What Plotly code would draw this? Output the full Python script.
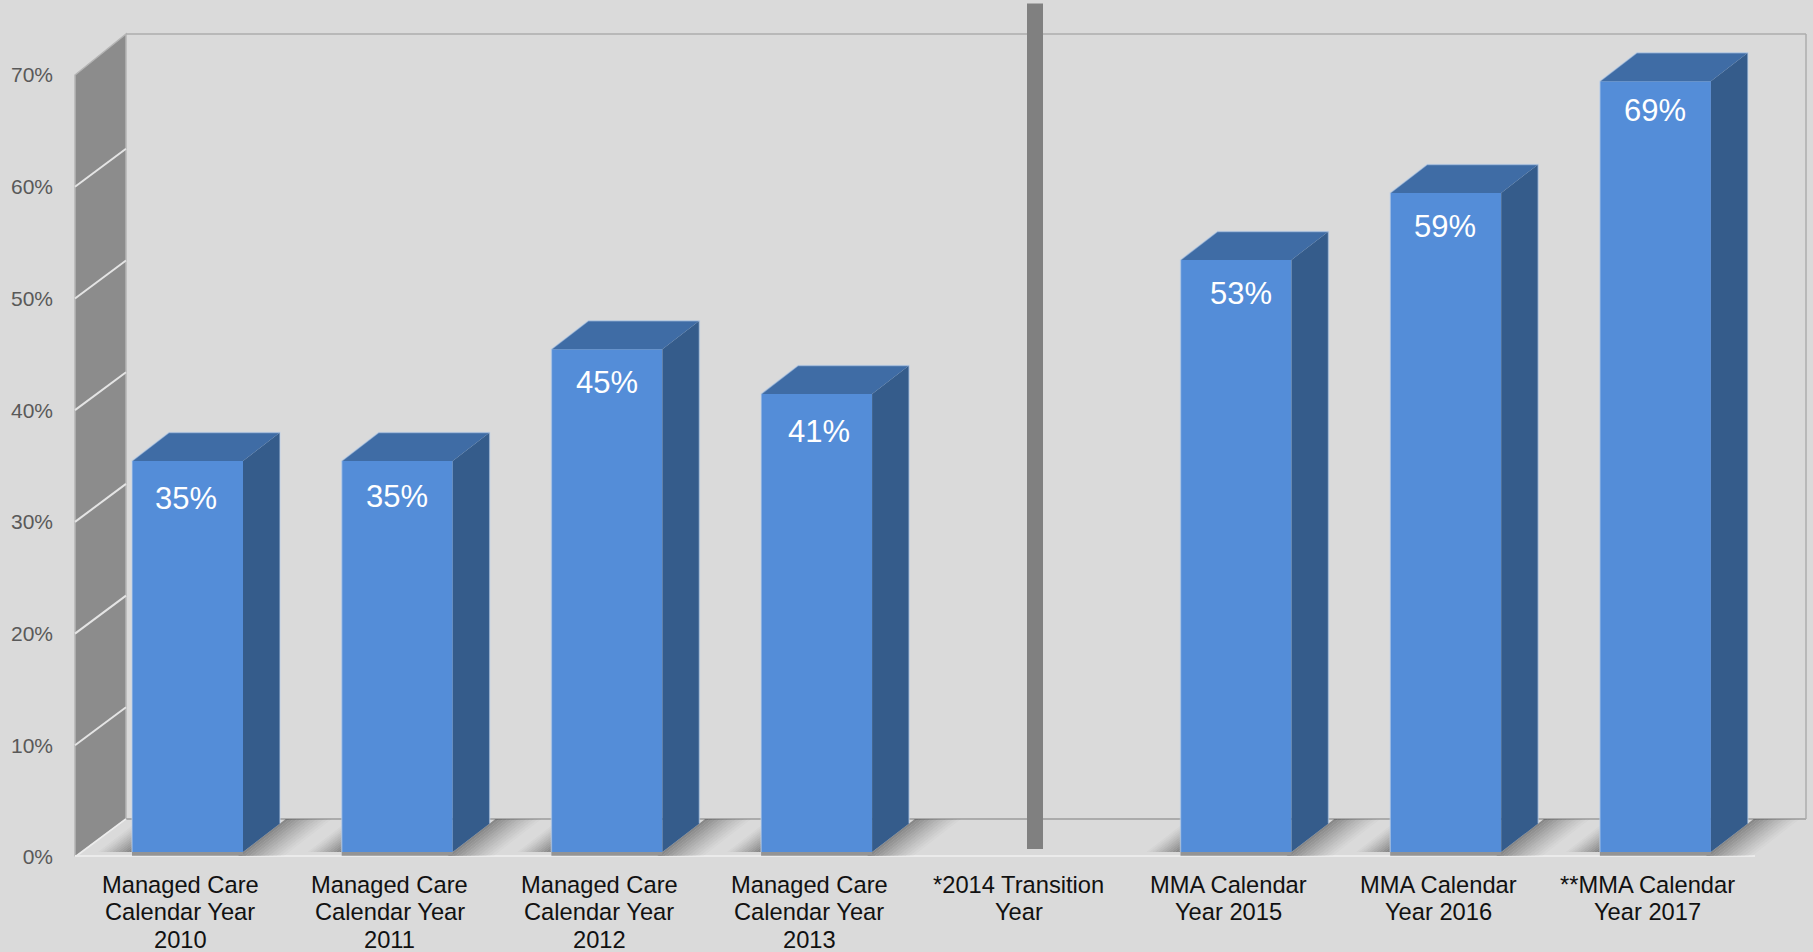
import plotly.graph_objects as go

# chart data
categories = [
    "Managed Care<br>Calendar Year<br>2010",
    "Managed Care<br>Calendar Year<br>2011",
    "Managed Care<br>Calendar Year<br>2012",
    "Managed Care<br>Calendar Year<br>2013",
    "*2014 Transition<br>Year",
    "MMA Calendar<br>Year 2015",
    "MMA Calendar<br>Year 2016",
    "**MMA Calendar<br>Year 2017",
]
values = [35, 35, 45, 41, None, 53, 59, 69]
y_ticks = [0, 10, 20, 30, 40, 50, 60, 70]
y_tick_labels = ["0%", "10%", "20%", "30%", "40%", "50%", "60%", "70%"]

# hand placed data labels (the original has them nudged a bit)
label_drop = [38, 36, 33, 38, 0, 34, 34, 29]
label_nudge = [-2, 0, 0, 2, 0, 5, -1, 0]

# scale of the axes in pixels
PX_X = 209.7
PX_Y = 11.171

BG = "#dadada"
FRONT = "#548dd8"
SIDE = "#355c8b"
TOP = "#3f6ca5"
WALL = "#8c8c8c"
FONT = "Liberation Sans"

# 3d look, in axis units
lift = 0.45
bar_width = 111 / PX_X
bar_shift = 7.5 / PX_X
depth_x = 37 / PX_X
depth_y = 28.5 / PX_Y
wall_x = -105 / PX_X
wall_dx = 51 / PX_X
back_y = 3.4
back_top = 73.67
right_x = 1626 / PX_X
front_end = 1575 / PX_X


def band_traces(fig, bars):
    # floor shadow, cut in bands because there is no diagonal gradient
    n = 12
    slope = depth_x / depth_y
    for k in range(n):
        fade = (1 - k / n) ** 1.2
        xs, ys = [], []
        d1, d2 = k * 46 / PX_X / n, (k + 1) * 46 / PX_X / n
        for i, v in bars:
            r = i + bar_shift + bar_width / 2
            low, high = 0.1, back_y
            off_low = (low - lift) * slope
            off_high = (high - lift) * slope
            xs += [r + off_low + d1, r + off_low + d2, r + off_high + d2, r + off_high + d1, r + off_low + d1, None]
            ys += [low, low, high, high, low, None]
        fig.add_trace(go.Scatter(x=xs, y=ys, fill="toself", mode="none", hoverinfo="skip",
                                 fillcolor=f"rgba(70,70,70,{0.55 * fade:.3f})"))

        xs, ys = [], []
        d1, d2 = k * 34 / PX_X / n, (k + 1) * 34 / PX_X / n
        for i, v in bars:
            l = i + bar_shift - bar_width / 2
            xs += [l - d1, l - d2, l, l, l - d1, None]
            ys += [lift, lift, lift + d2 / slope, lift + d1 / slope, lift, None]
        fig.add_trace(go.Scatter(x=xs, y=ys, fill="toself", mode="none", hoverinfo="skip",
                                 fillcolor=f"rgba(70,70,70,{0.6 * fade:.3f})"))


bars = [(i, v) for i, v in enumerate(values) if v is not None]

fig = go.Figure()

# front faces
fig.add_trace(go.Bar(
    x=[i + bar_shift for i in range(len(categories))],
    y=values,
    base=lift,
    width=bar_width,
    marker=dict(color=FRONT, line=dict(width=0)),
    hoverinfo="skip",
))

band_traces(fig, bars)

# strip under the bars
xs, ys = [], []
for i, v in bars:
    l = i + bar_shift - bar_width / 2
    r = i + bar_shift + bar_width / 2
    xs += [l, r, r, l, l, None]
    ys += [0.12, 0.12, lift, lift, 0.12, None]
fig.add_trace(go.Scatter(x=xs, y=ys, fill="toself", mode="none", fillcolor="#949494", hoverinfo="skip"))

# side and top faces
xs, ys = [], []
for i, v in bars:
    r = i + bar_shift + bar_width / 2
    xs += [r, r + depth_x, r + depth_x, r, r, None]
    ys += [lift, lift + depth_y, lift + v + depth_y, lift + v, lift, None]
fig.add_trace(go.Scatter(x=xs, y=ys, fill="toself", mode="none", fillcolor=SIDE, hoverinfo="skip"))

xs, ys = [], []
for i, v in bars:
    l = i + bar_shift - bar_width / 2
    r = i + bar_shift + bar_width / 2
    xs += [l, r, r + depth_x, l + depth_x, l, None]
    ys += [lift + v, lift + v, lift + v + depth_y, lift + v + depth_y, lift + v, None]
fig.add_trace(go.Scatter(x=xs, y=ys, fill="toself", mode="none", fillcolor=TOP, hoverinfo="skip"))

# light halo round the bars
xs, ys = [], []
for i, v in bars:
    l = i + bar_shift - bar_width / 2
    r = i + bar_shift + bar_width / 2
    xs += [l, l, l + depth_x, r + depth_x, r + depth_x, None]
    ys += [lift, lift + v, lift + v + depth_y, lift + v + depth_y, lift + depth_y, None]
fig.add_trace(go.Scatter(x=xs, y=ys, mode="lines", hoverinfo="skip",
                         line=dict(color="rgba(190,210,235,0.55)", width=1.5)))

# walls and floor
shapes = [
    dict(type="path", layer="below", fillcolor=WALL, line=dict(color="#b5b5b5", width=1.5),
         path=f"M{wall_x},0 L{wall_x + wall_dx},{back_y} L{wall_x + wall_dx},{back_top} L{wall_x},70 Z"),
    dict(type="line", layer="below", x0=wall_x + wall_dx, x1=right_x, y0=back_top, y1=back_top,
         line=dict(color="#adadad", width=1.5)),
    dict(type="line", layer="below", x0=right_x, x1=right_x, y0=back_y, y1=back_top,
         line=dict(color="#adadad", width=1.5)),
    dict(type="line", layer="below", x0=wall_x + wall_dx, x1=right_x, y0=back_y, y1=back_y,
         line=dict(color="#ababab", width=2)),
    dict(type="line", layer="below", x0=wall_x, x1=front_end, y0=-0.12, y1=-0.12,
         line=dict(color="#b9b9b9", width=1.5)),
    dict(type="line", layer="below", x0=wall_x, x1=front_end, y0=0.08, y1=0.08,
         line=dict(color="#ebebeb", width=2)),
    dict(type="line", layer="below", x0=wall_x, x1=wall_x + wall_dx, y0=0, y1=back_y,
         line=dict(color="#ececec", width=2)),
]
for t in y_ticks[1:-1]:
    shapes.append(dict(type="line", layer="below", x0=wall_x, x1=wall_x + wall_dx, y0=t, y1=t + back_y,
                       line=dict(color="#e4e4e4", width=2)))

# divider for the transition year
shapes.append(dict(type="rect", layer="above", x0=847 / PX_X, x1=863 / PX_X, y0=0.72, y1=76.4,
                   fillcolor="#808080", line=dict(width=0)))

annotations = []
for i, v in enumerate(values):
    if v is not None:
        annotations.append(dict(x=i + bar_shift, y=v + lift, text=f"{v}%", showarrow=False,
                                xshift=label_nudge[i], yshift=-label_drop[i],
                                font=dict(family=FONT, size=31, color="white")))
    # tick labels drawn line by line, axis tick labels can't do this line height
    for j, line in enumerate(categories[i].split("<br>")):
        annotations.append(dict(x=i, y=0, text=line, showarrow=False, yshift=-28 - 27.4 * j,
                                font=dict(family=FONT, size=23.7, color="#111111")))

fig.update_layout(
    width=1813,
    height=952,
    margin=dict(l=58, r=0, t=0, b=95),
    paper_bgcolor=BG,
    plot_bgcolor=BG,
    showlegend=False,
    hovermode=False,
    shapes=shapes,
    annotations=annotations,
    xaxis=dict(range=[-122 / PX_X, 1633 / PX_X], showgrid=False, zeroline=False, showticklabels=False, ticks=""),
    yaxis=dict(range=[0, 857 / PX_Y], tickvals=y_ticks, ticktext=y_tick_labels, showgrid=False, zeroline=False,
               ticks="", ticklabelstandoff=4, tickfont=dict(family=FONT, size=21, color="#595959")),
)

# page margin would shift the whole chart by 8px
fig.write_html("out.html", config=dict(displayModeBar=False),
               post_script="document.body.style.margin='0';document.body.style.overflow='hidden';")
